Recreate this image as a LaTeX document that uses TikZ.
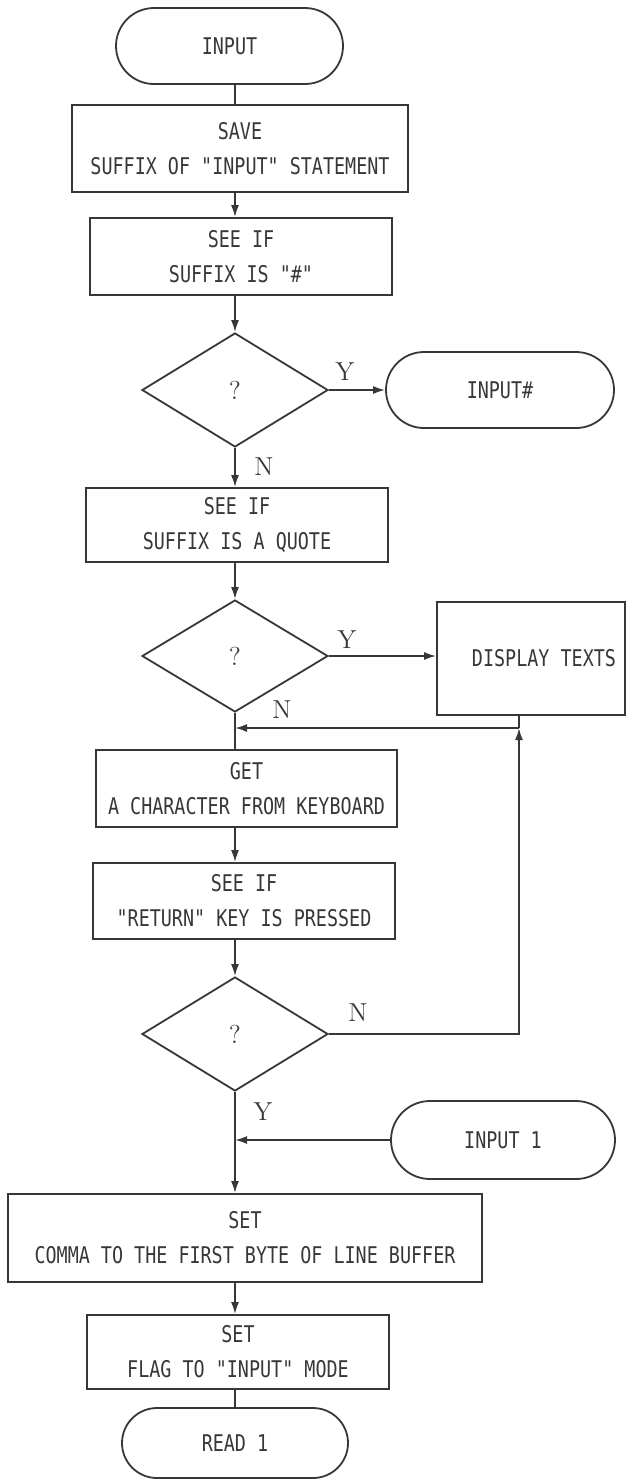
\documentclass[tikz,border=0pt]{standalone}
\usepackage{fontspec}
\newfontfamily\plotfont[FakeStretch=0.8,Ligatures=TeXOff]{DejaVu Sans Mono}
\usetikzlibrary{positioning,arrows.meta,shapes.geometric,shapes.misc}
\definecolor{ink}{RGB}{55,55,55}
\tikzset{
  procbox/.style={draw=ink, rectangle, align=center, inner sep=0pt, text=ink,
    font=\plotfont\fontsize{11.5}{17.5}\selectfont},
  termbox/.style={draw=ink, rounded rectangle, inner sep=0pt, text=ink,
    font=\plotfont\fontsize{11.5}{17.5}\selectfont, minimum width=113pt, minimum height=38pt},
  decide/.style={draw=ink, diamond, inner sep=0pt, text=ink,
    minimum width=93pt, minimum height=57pt, font=\fontsize{13}{15}\selectfont},
  yn/.style={text=ink, font=\fontsize{13}{15}\selectfont},
  link/.style={draw=ink},
  flow/.style={draw=ink, -{Latex[length=6pt,width=4pt]}}
}

\begin{document}
\begin{tikzpicture}[x=0.5pt,y=-0.5pt,line width=0.9pt]
  \useasboundingbox (0,0) rectangle (627,1480);
  % main column
  \node[termbox, minimum width=113.5pt] (start) at (229.5,46) {INPUT};
  \node[procbox, minimum width=168pt, minimum height=43.5pt] (save) at (240,148.5)
     {SAVE\\SUFFIX OF "INPUT" STATEMENT};
  \node[procbox, minimum width=151pt, minimum height=38.5pt] (hash) at (241,256.5)
     {SEE IF\\SUFFIX IS "\#"};
  \node[decide] (ishash) at (235,390) {?};
  \node[termbox, minimum width=114pt] (inhash) at (500,390) {INPUT\#};
  \node[procbox, minimum width=151pt, minimum height=37pt] (quote) at (237,525)
     {SEE IF\\SUFFIX IS A QUOTE};
  \node[decide, minimum height=56pt] (isquote) at (235,656) {?};
  \node[procbox, minimum width=94pt, minimum height=56.5pt] (disp) at (531,658.5)
     {\hspace*{13pt}DISPLAY TEXTS};
  \node[procbox, minimum width=150.5pt, minimum height=38.5pt] (getch) at (246.5,788.5)
     {GET\\A CHARACTER FROM KEYBOARD};
  \node[procbox, minimum width=151pt, minimum height=38pt] (retkey) at (244,901)
     {SEE IF\\"RETURN" KEY IS PRESSED};
  \node[decide] (isret) at (235,1034) {?};
  \node[termbox, minimum width=112pt, minimum height=39pt] (inone) at (503,1140) {INPUT 1};
  \node[procbox, minimum width=237pt, minimum height=44pt] (comma) at (245,1238)
     {SET\\COMMA TO THE FIRST BYTE OF LINE BUFFER};
  \node[procbox, minimum width=151pt, minimum height=37pt] (flag) at (238,1352)
     {SET\\FLAG TO "INPUT" MODE};
  \node[termbox, minimum height=35pt] (read) at (235,1443) {READ 1};

  % branch labels
  \node[yn] (yhash) at (345,372) {Y};
  \node[yn] (nhash) at (264,467) {N};
  \node[yn] (yquote) at (347,640) {Y};
  \node[yn] (nquote) at (282,710) {N};
  \node[yn] (nret) at (358,1013) {N};
  \node[yn] (yret) at (263,1112) {Y};

  % connectors
  \coordinate (spine) at (235,0);
  \coordinate (join) at (519,728);
  \draw[link] (spine |- start.south) -- (spine |- save.north);
  \draw[flow] (spine |- save.south) -- (spine |- hash.north);
  \draw[flow] (spine |- hash.south) -- (ishash.north);
  \draw[flow] (ishash.east) -- (inhash.west);
  \draw[flow] (ishash.south) -- (spine |- quote.north);
  \draw[flow] (spine |- quote.south) -- (isquote.north);
  \draw[flow] (isquote.east) -- (isquote.east -| disp.west);
  \draw[link] (isquote.south) -- (spine |- getch.north);
  \draw[link] (join |- disp.south) -- (join);
  \draw[flow] (join) -- (spine |- join);
  \draw[flow] (spine |- getch.south) -- (spine |- retkey.north);
  \draw[flow] (spine |- retkey.south) -- (isret.north);
  \draw[flow] (isret.east) -| (join);
  \draw[flow] (isret.south) -- (spine |- comma.north);
  \draw[flow] (inone.west) -- (spine |- inone.west);
  \draw[flow] (spine |- comma.south) -- (spine |- flag.north);
  \draw[link] (spine |- flag.south) -- (read.north);
\end{tikzpicture}
\end{document}
